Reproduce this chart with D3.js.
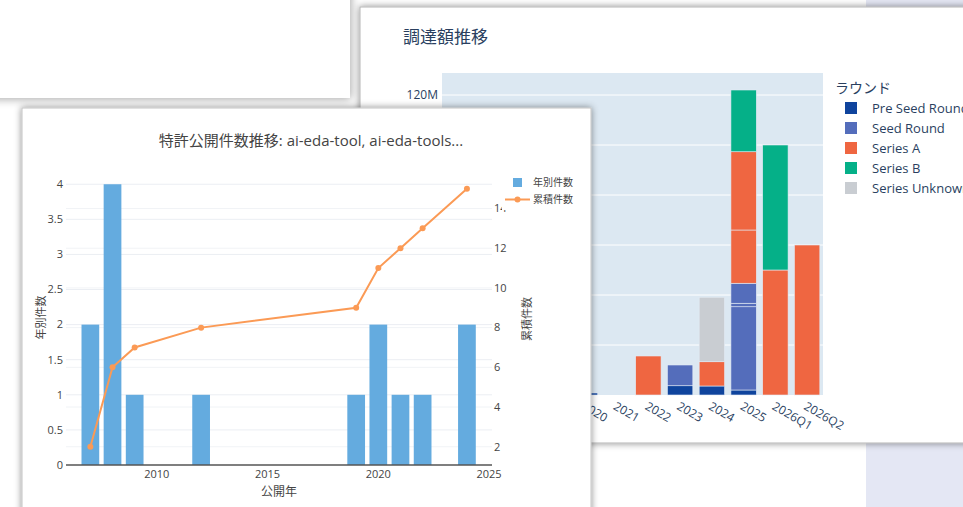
<!DOCTYPE html>
<html><head><meta charset="utf-8">
<script src="https://cdn.jsdelivr.net/npm/d3@7"></script>
<style>
html,body{margin:0;padding:0;background:#fff;overflow:hidden}
svg{display:block;font-family:"Open Sans","Noto Sans CJK JP",sans-serif}
</style></head><body>
<svg id="c" width="963" height="507"></svg>
<script>
// ---- back chart data (調達額, millions) ----
const fundCategories = ['2016','2017','2018','2019','2020','2021','2022','2023','2024','2025','2026Q1','2026Q2'];
const roundNames = ['Pre Seed Round','Seed Round','Series A','Series B','Series Unknown'];
const roundColors = ['#0f449d','#546dbb','#ef6641','#05b088','#c9cdd2'];
const preSeedRows = [['2020',0.8],['2023',3.7],['2024',3.6],['2025',2]];
const seedRows = [['2023',8.3],['2025',33.3],['2025',1.4],['2025',8]];
const seriesARows = [['2022',15.6],['2024',9.7],['2025',21.3],['2025',31.3],['2026Q1',50],['2026Q2',60]];
const seriesBRows = [['2025',24.7],['2026Q1',50]];
const unknownRows = [['2024',25.8]];
const fundTicks = [0,20,40,60,80,100,120];

// ---- front chart data (特許公開件数) ----
const pubYears = [2007,2008,2009,2012,2019,2020,2021,2022,2024];
const yearlyCounts = [2,4,1,1,1,2,1,1,2];
const cumulativeCounts = [2,6,7,8,9,11,12,13,15];
const leftTicks = [0,0.5,1,1.5,2,2.5,3,3.5,4];
const rightTicks = [2,4,6,8,10,12,14];
const xTicks = [2010,2015,2020,2025];

const svg = d3.select('#c');
const defs = svg.append('defs');
const f = defs.append('filter').attr('id','sh').attr('x','-10%').attr('y','-10%').attr('width','120%').attr('height','120%');
f.append('feDropShadow').attr('dx',0).attr('dy',0).attr('stdDeviation',3.5).attr('flood-color','#000').attr('flood-opacity',0.45);
const f2 = defs.append('filter').attr('id','sh2').attr('x','-10%').attr('y','-10%').attr('width','130%').attr('height','130%');
f2.append('feDropShadow').attr('dx',1).attr('dy',1).attr('stdDeviation',5).attr('flood-color','#000').attr('flood-opacity',0.35);

// background
svg.append('rect').attr('width',963).attr('height',507).attr('fill','#fff');
svg.append('rect').attr('x',866).attr('y',0).attr('width',97).attr('height',507).attr('fill','#e4e7f4');

// panel A (top-left)
svg.append('rect').attr('x',-30).attr('y',-30).attr('width',380).attr('height',128).attr('fill','#fff').attr('filter','url(#sh2)');

// panel B (back chart)
svg.append('rect').attr('x',360).attr('y',7).attr('width',700).attr('height',436).attr('fill','#fff').attr('stroke','#b5b5b5').attr('filter','url(#sh)');

const B = svg.append('g');
const bx = d3.scaleBand().domain(fundCategories).range([442, 823]).paddingInner(0.2).paddingOuter(0.1);
const by = d3.scaleLinear().domain([0, 128.8]).range([395, 73]);
B.append('rect').attr('x',442).attr('y',73).attr('width',381).attr('height',322).attr('fill','#dce8f2');
B.selectAll('line.g').data(fundTicks.filter(d=>d>0)).join('line')
  .attr('x1',442).attr('x2',823).attr('y1',d=>by(d)).attr('y2',d=>by(d)).attr('stroke','#fff').attr('stroke-width',1);
// only the tick labels not hidden behind the front panel
B.selectAll('text.yt').data(fundTicks.filter(d=>by(d) < 105)).join('text')
  .attr('x',438).attr('y',d=>by(d)).attr('dy','0.35em').attr('text-anchor','end')
  .attr('font-size',12).attr('fill','#2a3f5f').text(d=>d===0?'0':d+'M');
B.append('text').attr('x',403).attr('y',43).attr('font-size',17).attr('fill','#2a3f5f').text('調達額推移');

const allRows = [preSeedRows, seedRows, seriesARows, seriesBRows, unknownRows];
const stackTop = {};
allRows.forEach((rows, ri) => {
  rows.forEach(([cat, v]) => {
    const base = stackTop[cat] || 0;
    stackTop[cat] = base + v;
    B.append('rect').attr('x', bx(cat)).attr('width', bx.bandwidth())
      .attr('y', by(base + v)).attr('height', by(base) - by(base + v))
      .attr('fill', roundColors[ri]).attr('stroke','#e3ebf5').attr('stroke-width',0.6);
  });
});
B.selectAll('text.xt').data(fundCategories.filter(d => bx(d) + bx.bandwidth()/2 > 570)).join('text')
  .attr('transform', d => `translate(${bx(d) + bx.bandwidth()/2 - 2},405) rotate(30)`)
  .attr('dy','0.35em').attr('font-size',12).attr('fill','#2a3f5f').text(d=>d);
// legend
B.append('text').attr('x',835).attr('y',93).attr('font-size',14).attr('fill','#2a3f5f').text('ラウンド');
roundNames.forEach((n,i) => {
  const y = 108 + i*20;
  B.append('rect').attr('x',845).attr('y',y-6).attr('width',12).attr('height',12).attr('fill',roundColors[i]);
  B.append('text').attr('x',872).attr('y',y).attr('dy','0.35em').attr('font-size',13).attr('fill','#2a3f5f').text(n);
});

// panel C (front chart)
svg.append('rect').attr('x',22).attr('y',108).attr('width',569).attr('height',430).attr('fill','#fff').attr('stroke','#c4c4c4').attr('filter','url(#sh)');

const F = svg.append('g');
const fx = d3.scaleLinear().domain([2005.9, 2025.15]).range([66, 492.4]);
const fyL = d3.scaleLinear().domain([0, 4.2]).range([465, 170.2]);
const fyR = d3.scaleLinear().domain([1.08, 15.93]).range([465, 170.2]);
F.selectAll('line.gr').data(rightTicks).join('line')
  .attr('x1',66).attr('x2',492).attr('y1',d=>fyR(d)).attr('y2',d=>fyR(d)).attr('stroke','#f1f3f6').attr('stroke-width',1);
F.selectAll('line.gl').data(leftTicks.filter(d=>d>0)).join('line')
  .attr('x1',66).attr('x2',492).attr('y1',d=>fyL(d)).attr('y2',d=>fyL(d)).attr('stroke','#ebeef3').attr('stroke-width',1);
const bw = fx(2006.8) - fx(2006);
F.selectAll('rect.bar').data(pubYears).join('rect')
  .attr('x', d => fx(d) - bw/2).attr('width', bw)
  .attr('y', (d,i) => fyL(yearlyCounts[i])).attr('height', (d,i) => fyL(0) - fyL(yearlyCounts[i]))
  .attr('fill','#64abdf');
F.append('line').attr('x1',66).attr('x2',492).attr('y1',465).attr('y2',465).attr('stroke','#555').attr('stroke-width',1.5);
const line = d3.line().x((d,i)=>fx(pubYears[i])).y(d=>fyR(d));
F.append('path').datum(cumulativeCounts).attr('d',line).attr('fill','none').attr('stroke','#fb9a55').attr('stroke-width',2);
F.selectAll('circle.pt').data(cumulativeCounts).join('circle')
  .attr('cx',(d,i)=>fx(pubYears[i])).attr('cy',d=>fyR(d)).attr('r',3).attr('fill','#fb9a55');
F.selectAll('text.lt').data(leftTicks).join('text')
  .attr('x',63).attr('y',d=>fyL(d)).attr('dy','0.35em').attr('text-anchor','end')
  .attr('font-size',11).attr('fill','#444').text(d=>d);
F.selectAll('text.rt').data(rightTicks).join('text')
  .attr('x',494).attr('y',d=>fyR(d)).attr('dy','0.35em')
  .attr('font-size',11).attr('fill','#444').text(d=>d);
F.selectAll('text.xt').data(xTicks).join('text')
  .attr('x',d=>fx(d)).attr('y',474).attr('dy','0.35em').attr('text-anchor','middle')
  .attr('font-size',11).attr('fill','#444').text(d=>d);
F.append('text').attr('x',311).attr('y',141).attr('dy','0.35em').attr('text-anchor','middle')
  .attr('font-size',15).attr('fill','#444').text('特許公開件数推移: ai-eda-tool, ai-eda-tools...');
F.append('text').attr('transform','translate(41,317.5) rotate(-90)').attr('dy','0.35em').attr('text-anchor','middle')
  .attr('font-size',11).attr('fill','#444').text('年別件数');
F.append('text').attr('transform','translate(527,319) rotate(-90)').attr('dy','0.35em').attr('text-anchor','middle')
  .attr('font-size',11).attr('fill','#444').text('累積件数');
F.append('text').attr('x',279).attr('y',492).attr('dy','0.35em').attr('text-anchor','middle')
  .attr('font-size',12).attr('fill','#444').text('公開年');
// legend
F.append('rect').attr('x',502).attr('y',172).attr('width',86).attr('height',38).attr('fill','#fff');
F.append('rect').attr('x',513).attr('y',178).attr('width',9).attr('height',9).attr('fill','#64abdf');
F.append('text').attr('x',533).attr('y',182.5).attr('dy','0.35em').attr('font-size',10).attr('fill','#444').text('年別件数');
F.append('line').attr('x1',505).attr('x2',530).attr('y1',199.5).attr('y2',199.5).attr('stroke','#fb9a55').attr('stroke-width',2);
F.append('circle').attr('cx',517.5).attr('cy',199.5).attr('r',3).attr('fill','#fb9a55');
F.append('text').attr('x',533).attr('y',199.5).attr('dy','0.35em').attr('font-size',10).attr('fill','#444').text('累積件数');
</script></body></html>
